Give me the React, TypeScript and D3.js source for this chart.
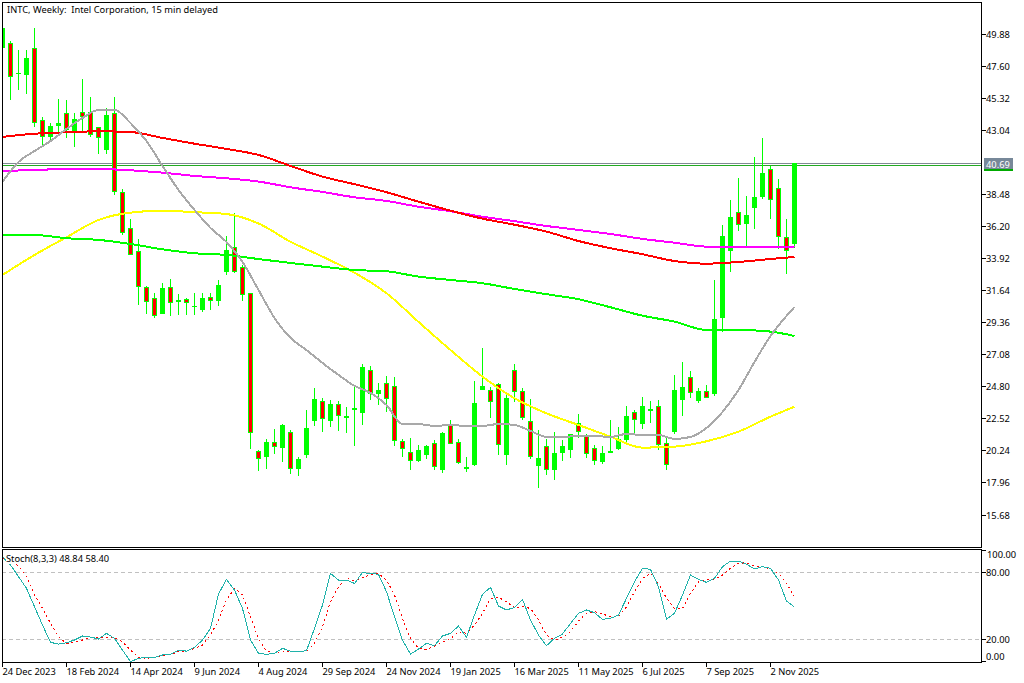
import React from "react";
import * as d3 from "d3";

const opens = [48.89,49.22,47.04,46.99,48.87,43.75,42.58,43.34,44.24,43.01,44.32,44.36,43.27,41.63,44.24,38.63,36.07,34.45,31.87,31.09,29.97,31.87,30.85,31.04,30.45,30.26,31.18,30.90,32.96,34.72,33.32,31.45,20.21,19.83,20.85,20.47,21.56,18.98,19.95,22.37,23.77,22.37,23.55,22.60,23.17,22.94,25.97,24.31,25.05,24.83,20.92,20.14,19.52,19.95,20.78,18.90,22.06,20.85,18.98,19.24,24.57,24.55,24.98,19.95,26.00,24.50,22.37,19.17,20.59,18.88,20.09,20.30,22.20,21.30,20.45,19.45,20.09,20.38,21.02,23.01,22.15,23.10,23.43,20.78,21.58,23.86,25.47,23.79,24.48,24.29,29.69,34.45,37.23,36.37,37.51,38.29,40.28,38.93,35.43,34.95];
const highs = [50.31,49.36,48.75,48.75,50.31,43.96,43.58,45.26,45.19,44.24,46.68,45.38,43.29,44.60,45.38,38.86,36.73,35.31,31.97,31.45,32.16,32.44,31.40,31.13,31.45,31.49,31.45,32.39,35.52,37.13,33.46,31.45,20.30,21.07,21.80,22.15,21.73,19.79,23.15,24.69,23.98,23.86,23.77,23.34,24.81,26.42,26.28,25.05,25.57,25.50,21.09,21.18,20.66,20.66,21.02,21.61,22.44,21.09,19.81,25.21,27.56,24.78,25.05,24.45,26.42,24.69,23.91,21.73,21.09,21.58,21.02,21.44,22.86,21.44,20.64,20.59,22.44,21.94,23.43,23.15,24.07,23.79,23.86,21.30,25.64,26.56,25.92,24.71,24.93,32.39,36.30,38.08,39.64,38.36,41.14,42.49,40.50,39.57,36.73,40.70];
const lows = [48.89,45.19,45.90,45.62,43.29,41.83,42.23,42.70,42.49,41.87,42.94,42.54,41.35,41.35,38.44,35.57,34.17,30.61,29.97,29.71,29.97,29.83,29.90,29.90,29.90,30.14,30.26,30.54,32.75,32.87,30.92,20.40,18.83,18.95,20.02,19.47,18.60,18.48,19.76,22.01,21.58,21.96,21.66,21.54,20.61,22.10,23.86,23.53,23.03,20.61,19.83,18.90,19.45,19.67,18.90,18.69,20.75,19.33,18.76,19.17,24.57,22.58,19.95,19.24,23.74,22.44,19.69,17.62,18.53,18.17,19.52,19.74,21.14,19.72,19.24,19.31,20.07,20.30,20.66,21.49,21.80,22.25,20.30,18.88,21.44,22.72,23.98,23.63,24.00,24.17,28.72,32.96,35.88,34.81,36.02,38.15,36.73,34.60,32.82,34.65];
const closes = [50.31,46.85,47.13,48.18,43.58,42.58,43.34,43.55,43.06,43.84,44.00,42.68,42.51,44.12,38.67,35.71,34.17,31.87,30.85,29.85,31.82,30.74,30.95,30.78,30.54,31.11,30.90,32.04,34.52,32.98,31.35,21.49,19.69,20.85,20.50,22.06,18.93,19.64,21.87,23.93,22.53,23.58,22.74,22.70,23.27,26.21,24.31,24.57,23.95,20.92,20.35,19.50,20.30,20.61,19.12,21.51,20.75,19.38,19.07,23.65,24.86,23.74,20.63,24.00,24.43,22.58,19.81,19.74,18.88,20.09,20.59,21.42,21.56,20.02,19.52,20.09,20.23,21.09,22.72,22.44,23.43,23.20,20.66,19.24,24.57,24.78,24.32,24.50,24.02,29.62,35.52,36.87,36.32,37.01,38.29,40.00,38.10,35.47,34.48,40.69];

// moving averages, read every 4th bar plus the last one
const maBars = [0,4,8,12,16,20,24,28,32,36,40,44,48,52,56,60,64,68,72,76,80,84,88,92,96,99];
const maRed = [42.56,42.79,42.89,42.96,42.91,42.49,42.08,41.71,41.28,40.50,39.74,39.20,38.63,37.96,37.32,36.75,36.32,35.83,35.16,34.65,34.22,33.74,33.55,33.67,33.88,34.03];
const maMagenta = [40.14,40.21,40.28,40.28,40.19,40.02,39.79,39.62,39.39,38.98,38.65,38.27,38.01,37.60,37.28,36.89,36.57,36.23,35.95,35.66,35.31,35.04,34.76,34.74,34.74,34.72];
const maGreen = [35.59,35.59,35.36,35.24,34.95,34.57,34.29,34.17,33.88,33.60,33.34,33.10,33.01,32.63,32.39,32.16,31.75,31.38,31.02,30.45,29.85,29.43,28.84,28.84,28.72,28.41];
const maYellow = [32.75,34.17,35.43,36.66,37.18,37.32,37.21,37.08,36.41,35.11,34.05,32.91,31.45,29.41,27.41,25.52,23.98,22.91,22.08,21.25,20.47,20.54,20.92,21.61,22.67,23.38];

const grayBars = [0,2,4,6,8,10,12,14,16,18,20,22,24,26,28,30,32,34,36,38,40,42,44,46,48,50,52,54,56,58,60,62,64,66,68,70,72,74,76,78,80,82,84,86,88,90,92,94,96,98,99];
const maGray = [39.38,40.78,41.56,42.27,43.13,43.91,44.48,44.48,43.55,42.27,40.50,38.79,37.37,36.09,35.09,33.67,31.68,29.69,28.27,27.41,26.49,25.64,24.86,24.36,23.50,22.15,22.15,22.01,22.08,22.01,22.01,22.15,22.08,21.66,21.23,21.23,21.30,21.30,21.23,21.44,21.37,21.37,21.09,21.23,21.87,23.01,24.57,26.56,28.41,29.83,30.47];

const stochK = [94.0,86.6,76.1,65.7,49.2,32.8,17.3,15.8,17.0,19.4,23.0,22.1,20.3,25.4,20.9,10.4,0.0,3.0,3.9,3.9,6.0,6.6,10.1,9.5,12.8,19.4,29.8,60.6,73.7,64.2,47.7,19.4,7.5,6.6,7.5,12.0,9.5,8.9,9.8,29.8,50.7,79.1,73.1,73.1,70.1,79.7,79.1,78.2,62.7,40.3,19.4,6.8,11.3,16.4,14.3,23.0,25.4,31.9,21.8,41.8,60.3,66.6,49.8,46.3,48.6,55.8,37.3,23.9,14.3,20.9,24.8,34.3,43.3,46.3,43.9,37.9,38.8,41.8,56.7,71.6,83.6,82.7,67.1,37.9,43.3,59.7,77.6,73.7,71.0,74.6,85.1,90.1,90.1,87.2,83.0,85.1,83.6,73.1,54.3,48.84];
const stochD = [93.1,89.5,86.0,76.1,59.7,47.7,34.3,22.4,16.4,17.3,19.4,21.8,21.8,21.8,21.5,17.9,10.4,3.9,3.0,3.9,5.4,6.6,9.0,9.5,12.0,14.9,23.9,37.3,55.2,65.7,59.7,40.3,20.9,9.5,7.5,9.5,9.5,8.9,8.9,16.4,31.3,53.7,67.1,74.6,72.5,75.5,77.6,79.1,73.1,59.7,38.8,20.9,11.9,11.0,14.0,17.3,20.3,26.9,25.4,32.8,43.3,56.7,57.6,53.7,48.3,49.2,47.7,37.3,23.9,19.4,21.8,26.9,36.4,43.3,44.8,42.7,40.3,40.3,49.2,62.7,74.6,79.1,70.1,56.7,47.7,47.7,61.2,71.6,73.1,73.7,77.6,83.6,88.0,88.6,85.7,85.1,83.0,79.1,70.1,58.40];

const priceTicks = [49.88,47.60,45.32,43.04,38.48,36.20,33.92,31.64,29.36,27.08,24.80,22.52,20.24,17.96,15.68];
const stochLevels = [80, 20];
const dateBars = [0,8,16,24,32,40,48,56,64,72,80,88,96];
const dateLabels = ["24 Dec 2023","18 Feb 2024","14 Apr 2024","9 Jun 2024","4 Aug 2024","29 Sep 2024","24 Nov 2024","19 Jan 2025","16 Mar 2025","11 May 2025","6 Jul 2025","7 Sep 2025","2 Nov 2025"];
const bid = 40.69;
const ask = 40.55;

const WIDTH = 1024;
const HEIGHT = 683;
const FONT = "'Noto Sans', sans-serif";
const TEXT_DY = 1;
const left = 2;
const right = 981;
const mainTop = 2;
const mainBottom = 547;
const subTop = 549;
const subBottom = 662;

const x = d3.scaleLinear().domain([0, 99]).range([2.5, 794.5]);
const y = d3.scaleLinear().domain([15.68, 49.88]).range([515, 34]);
const ySub = d3.scaleLinear().domain([0, 100]).range([661.7, 550]);

const maLine = d3
  .line<[number, number]>()
  .x((d) => x(d[0]))
  .y((d) => y(d[1]))
  .curve(d3.curveMonotoneX);

const subLine = d3
  .line<number>()
  .x((_, i) => x(i))
  .y((d) => ySub(d));

const ma = (bars: number[], values: number[]) =>
  maLine(bars.map((b, i) => [b, values[i]] as [number, number])) || "";

const lines = [
  { values: maYellow, bars: maBars, color: "#ffff00" },
  { values: maGreen, bars: maBars, color: "#00ff00" },
  { values: maMagenta, bars: maBars, color: "#ff00ff" },
  { values: maRed, bars: maBars, color: "#ff0000" },
  { values: maGray, bars: grayBars, color: "#a9a9a9" },
];

export default function App() {
  return (
    <svg
      width={WIDTH}
      height={HEIGHT}
      viewBox={`0 0 ${WIDTH} ${HEIGHT}`}
      style={{ position: "absolute", left: 0, top: 0, background: "#fff" }}
      fontFamily={FONT}
      fontSize={9.3}
      fill="#000"
    >
      <defs>
        <clipPath id="mainClip">
          <rect x={left + 1} y={mainTop + 1} width={right - left - 1} height={mainBottom - mainTop - 1} />
        </clipPath>
        <clipPath id="subClip">
          <rect x={left + 1} y={subTop + 1} width={right - left - 1} height={subBottom - subTop - 1} />
        </clipPath>
      </defs>

      <g clipPath="url(#mainClip)" shapeRendering="crispEdges">
        <line x1={left} x2={right} y1={Math.floor(y(bid)) + 0.5} y2={Math.floor(y(bid)) + 0.5} stroke="#808a94" />
        <line x1={left} x2={right} y1={Math.floor(y(ask)) + 0.5} y2={Math.floor(y(ask)) + 0.5} stroke="#22aa22" />
        {closes.map((c, i) => {
          const top = Math.round(y(Math.max(opens[i], c)));
          const bottom = Math.round(y(Math.min(opens[i], c)));
          const h = Math.max(bottom - top, 1);
          const cx = x(i);
          const down = c < opens[i];
          return (
            <g key={i}>
              <line x1={cx} x2={cx} y1={y(highs[i])} y2={y(lows[i])} stroke="#00ff00" />
              <rect x={cx - 2.5} y={top} width={5} height={h} fill="#00ff00" />
              {down && h > 2 && <rect x={cx - 1.5} y={top + 1} width={3} height={h - 2} fill="#ff0000" />}
            </g>
          );
        })}
        {lines.map((l) => (
          <path key={l.color} d={ma(l.bars, l.values)} fill="none" stroke={l.color} strokeWidth={2} />
        ))}
      </g>

      <g clipPath="url(#subClip)" shapeRendering="crispEdges">
        {stochLevels.map((v) => (
          <line key={v} x1={left} x2={right} y1={ySub(v)} y2={ySub(v)} stroke="#c0c0c0" strokeDasharray="4 3" />
        ))}
        <path d={subLine(stochD) || ""} fill="none" stroke="#ff0000" strokeDasharray="2 3" />
        <path d={subLine(stochK) || ""} fill="none" stroke="#20b2aa" />
      </g>

      <g shapeRendering="crispEdges" fill="none" stroke="#000">
        <rect x={left + 0.5} y={mainTop + 0.5} width={right - left} height={mainBottom - mainTop} />
        <rect x={left + 0.5} y={subTop + 0.5} width={right - left} height={subBottom - subTop} />
        {priceTicks.map((t) => (
          <line key={t} x1={right} x2={right + 5} y1={y(t)} y2={y(t)} />
        ))}
        {[100, 80, 20, 0].map((t) => (
          <line key={t} x1={right} x2={right + 5} y1={ySub(t)} y2={ySub(t)} />
        ))}
        {dateBars.map((b) => (
          <line key={b} x1={x(b)} x2={x(b)} y1={subBottom} y2={subBottom + 5} />
        ))}
      </g>

      <text x={7} y={9 + TEXT_DY} dominantBaseline="middle" style={{ whiteSpace: "pre" }}>
        INTC, Weekly:  Intel Corporation, 15 min delayed
      </text>

      <rect x={6} y={553} width={102} height={11} fill="#fff" />
      <text x={6} y={558 + TEXT_DY} dominantBaseline="middle">Stoch(8,3,3) 48.84 58.40</text>

      {priceTicks.map((t) => (
        <text key={t} x={986} y={y(t) + TEXT_DY} dominantBaseline="middle">{t.toFixed(2)}</text>
      ))}

      <rect x={984} y={158} width={29} height={11} fill="#778899" shapeRendering="crispEdges" />
      <rect x={984} y={169} width={29} height={2} fill="#00aa00" shapeRendering="crispEdges" />
      <text x={986} y={164 + TEXT_DY} dominantBaseline="middle" fill="#fff">{bid.toFixed(2)}</text>

      <text x={987} y={554.5 + TEXT_DY} dominantBaseline="middle">100.00</text>
      <text x={986} y={ySub(80) + TEXT_DY} dominantBaseline="middle">80.00</text>
      <text x={986} y={ySub(20) + TEXT_DY} dominantBaseline="middle">20.00</text>
      <text x={986} y={656.5 + TEXT_DY} dominantBaseline="middle">0.00</text>

      {dateBars.map((b, i) => (
        <text key={b} x={x(b)} y={671.5 + TEXT_DY} dominantBaseline="middle">{dateLabels[i]}</text>
      ))}
    </svg>
  );
}
